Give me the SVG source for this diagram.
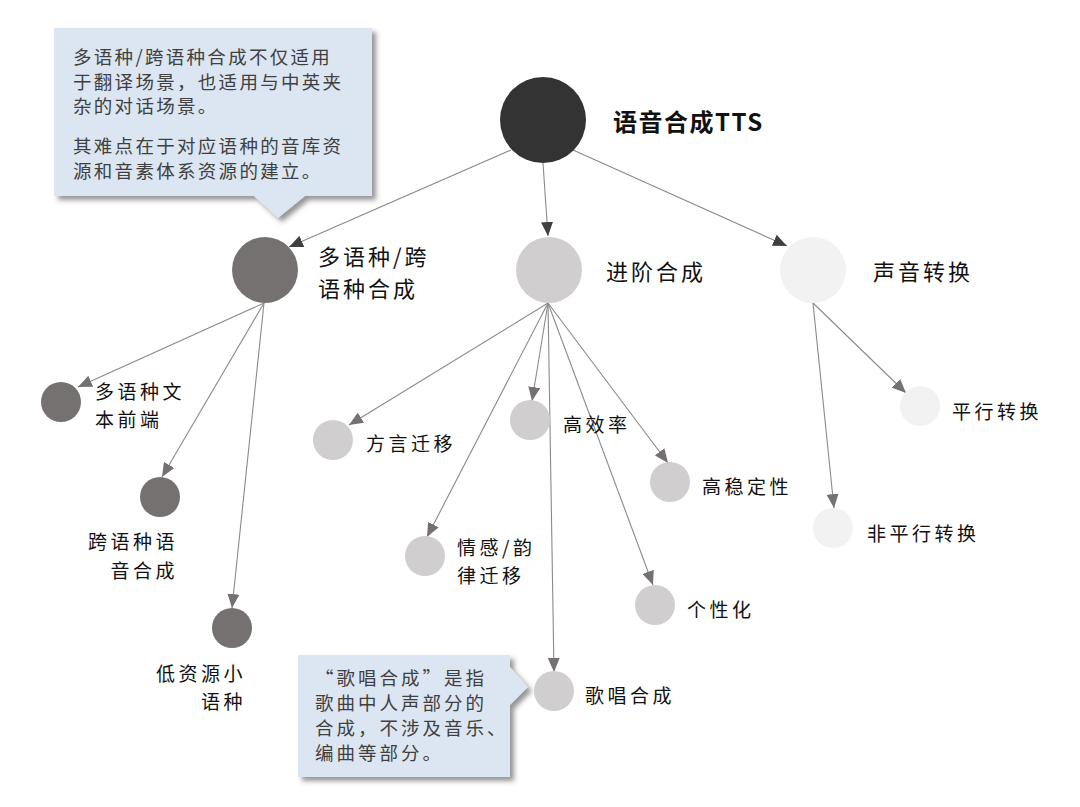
<svg xmlns="http://www.w3.org/2000/svg" width="1080" height="807" viewBox="0 0 1080 807">
<style>
.lbl{font-family:"Noto Sans CJK SC","Noto Sans",sans-serif;fill:#111;}
.l1{font-size:22px;letter-spacing:3px;}
.l2{font-size:19px;letter-spacing:3.5px;}
.note{font-family:"Noto Sans CJK SC","Noto Sans",sans-serif;font-size:18.5px;fill:#404040;letter-spacing:2.3px;}
.note2{letter-spacing:3px;}
.con{stroke:#8a8a8a;stroke-width:1.1;fill:none;}
.k1{marker-end:url(#ahDark);}
.k2{marker-end:url(#ahGray);}
.callout{fill:#dce6f2;filter:url(#sh);}
</style>
<defs>
<marker id="ahDark" markerUnits="userSpaceOnUse" markerWidth="14" markerHeight="12" refX="14" refY="6" orient="auto"><path d="M0,0 L14,6 L0,12 z" fill="#404040"/></marker>
<marker id="ahGray" markerUnits="userSpaceOnUse" markerWidth="14" markerHeight="12" refX="14" refY="6" orient="auto"><path d="M0,0 L14,6 L0,12 z" fill="#767171"/></marker>
<filter id="sh" x="-10%" y="-10%" width="125%" height="130%"><feDropShadow dx="4" dy="4" stdDeviation="2.5" flood-color="#404040" flood-opacity="0.55"/></filter>
</defs>
<rect width="1080" height="807" fill="#fff"/>

<g id="callout-multilingual">
<path class="callout" d="M54,28 H372 V196 H305 L278,218 L254,196 H54 Z"/>
<text class="note" x="73" y="64">多语种/跨语种合成不仅适用</text>
<text class="note" x="73" y="89">于翻译场景，也适用与中英夹</text>
<text class="note" x="73" y="113">杂的对话场景。</text>
<text class="note" x="73" y="153">其难点在于对应语种的音库资</text>
<text class="note" x="73" y="178">源和音素体系资源的建立。</text>
</g>

<g id="callout-singing">
<path class="callout" d="M298,655 H510 V667 L528,687 L510,705 V777 H298 Z"/>
<text class="note note2" x="315" y="685">“歌唱合成”是指</text>
<text class="note note2" x="315" y="710">歌曲中人声部分的</text>
<text class="note note2" x="315" y="735">合成，不涉及音乐、</text>
<text class="note note2" x="315" y="760">编曲等部分。</text>
</g>

<g id="connectors">
<line class="con k1" x1="511" y1="150" x2="289" y2="247"/>
<line class="con k1" x1="543" y1="163" x2="548" y2="236"/>
<line class="con k1" x1="573" y1="150" x2="787" y2="246"/>
<line class="con k2" x1="264" y1="303" x2="78" y2="387"/>
<line class="con k2" x1="264" y1="303" x2="162" y2="477"/>
<line class="con k2" x1="264" y1="303" x2="232" y2="608"/>
<line class="con k2" x1="548" y1="303" x2="349" y2="425"/>
<line class="con k2" x1="548" y1="303" x2="532" y2="401"/>
<line class="con k2" x1="548" y1="303" x2="668" y2="463"/>
<line class="con k2" x1="548" y1="303" x2="427" y2="537"/>
<line class="con k2" x1="548" y1="303" x2="653" y2="585"/>
<line class="con k2" x1="548" y1="303" x2="554" y2="672"/>
<line class="con k2" x1="813" y1="303" x2="906" y2="393"/>
<line class="con k2" x1="813" y1="303" x2="834" y2="508"/>
</g>

<g id="root">
<circle cx="543" cy="120" r="43" fill="#333333"/>
<text x="613" y="131" style="font-family:'Noto Sans CJK SC','Noto Sans',sans-serif;font-size:24px;font-weight:bold;fill:#111;letter-spacing:1.5px;">语音合成TTS</text>
</g>

<g id="multilingual">
<circle cx="265" cy="270" r="33" fill="#767171"/>
<text class="lbl l1" x="318" y="265">多语种/跨</text>
<text class="lbl l1" x="318" y="297">语种合成</text>
</g>
<g id="advanced">
<circle cx="549" cy="270" r="33" fill="#d0cece"/>
<text class="lbl l1" x="606" y="280">进阶合成</text>
</g>
<g id="voice-conversion">
<circle cx="813" cy="270" r="33" fill="#f2f2f2"/>
<text class="lbl l1" x="873" y="280">声音转换</text>
</g>

<g id="multi-text-frontend">
<circle cx="61" cy="402" r="20" fill="#767171"/>
<text class="lbl l2" x="95" y="399">多语种文</text>
<text class="lbl l2" x="95" y="427">本前端</text>
</g>
<g id="cross-lingual">
<circle cx="160" cy="497" r="20" fill="#767171"/>
<text class="lbl l2" x="178" y="549" text-anchor="end">跨语种语</text>
<text class="lbl l2" x="178" y="578" text-anchor="end">音合成</text>
</g>
<g id="low-resource">
<circle cx="232" cy="628" r="20" fill="#767171"/>
<text class="lbl l2" x="246" y="681" text-anchor="end">低资源小</text>
<text class="lbl l2" x="246" y="709" text-anchor="end">语种</text>
</g>

<g id="dialect">
<circle cx="333" cy="440" r="20" fill="#d0cece"/>
<text class="lbl l2" x="366" y="451">方言迁移</text>
</g>
<g id="efficiency">
<circle cx="530" cy="420" r="20" fill="#d0cece"/>
<text class="lbl l2" x="563" y="432">高效率</text>
</g>
<g id="stability">
<circle cx="670" cy="482" r="20" fill="#d0cece"/>
<text class="lbl l2" x="702" y="494">高稳定性</text>
</g>
<g id="emotion">
<circle cx="425" cy="556" r="20" fill="#d0cece"/>
<text class="lbl l2" x="457" y="555">情感/韵</text>
<text class="lbl l2" x="457" y="583">律迁移</text>
</g>
<g id="personalization">
<circle cx="655" cy="605" r="20" fill="#d0cece"/>
<text class="lbl l2" x="687" y="617">个性化</text>
</g>
<g id="singing">
<circle cx="554" cy="691" r="20" fill="#d0cece"/>
<text class="lbl l2" x="585" y="703">歌唱合成</text>
</g>

<g id="parallel">
<circle cx="920" cy="406" r="20" fill="#f2f2f2"/>
<text class="lbl l2" x="952" y="419">平行转换</text>
</g>
<g id="non-parallel">
<circle cx="833" cy="528" r="20" fill="#f2f2f2"/>
<text class="lbl l2" x="867" y="541">非平行转换</text>
</g>
</svg>
